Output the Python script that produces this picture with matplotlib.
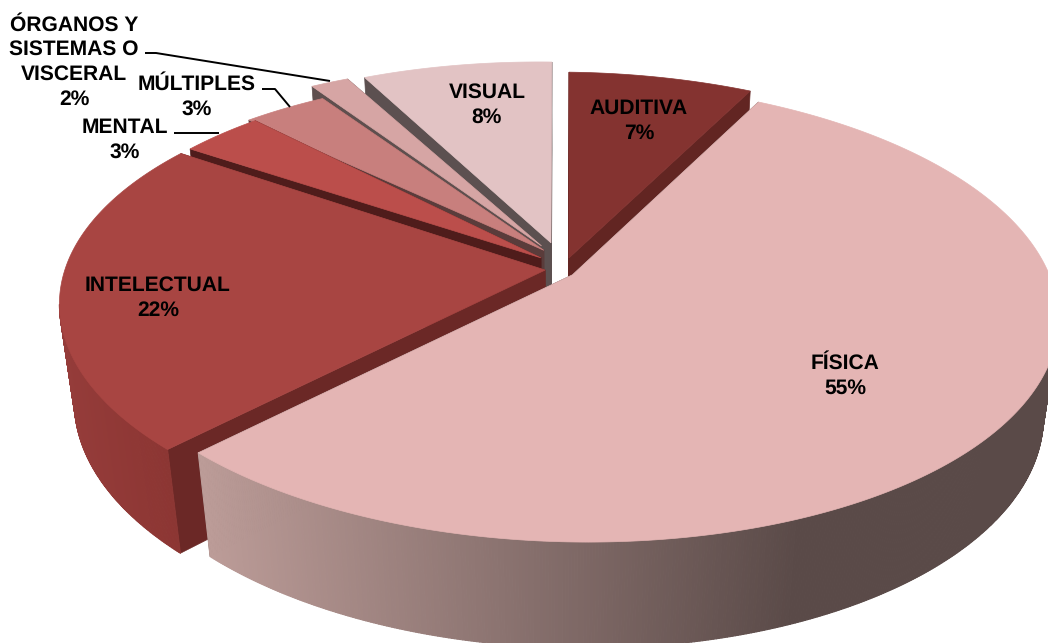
import numpy as np
import matplotlib
matplotlib.use("Agg")
import matplotlib.pyplot as plt
from matplotlib.collections import PolyCollection
from matplotlib.colors import to_rgb
from matplotlib.patches import Polygon

plt.rcParams["font.family"] = ["Liberation Sans", "DejaVu Sans"]
plt.rcParams["text.hinting"] = "no_hinting"
plt.rcParams["text.hinting_factor"] = 1

# ─── DATA ──────────────────────────────────────────────────────────────────
categories = ["AUDITIVA", "FÍSICA", "INTELECTUAL", "MENTAL", "MÚLTIPLES",
              "ÓRGANOS Y\nSISTEMAS O\nVISCERAL", "VISUAL"]
values = [7.4, 54.8, 22.2, 3.3, 3.3, 1.5, 7.5]

# ─── STYLE ─────────────────────────────────────────────────────────────────
apex_u = [0.023, 0.03, -0.027, -0.036, -0.03, -0.035, -0.015]
apex_v = [0.046, -0.03, -0.01, 0.045, 0.08, 0.10, 0.115]
rim_u = [0.027, 0.03, -0.028, -0.01, -0.025, -0.056, -0.015]
rim_v = [0.028, -0.03, -0.02, 0.005, 0.008, 0.079, 0.089]
end_trim = [0.014, 0, 0, 0, 0, 0, 0]  # radians taken off the end of the arc
top_colors = ["#843330", "#E4B5B4", "#A84542", "#BB4E4B", "#C87F7D", "#D6A5A4", "#E2C3C4"]
cut_colors = ["#622522", "#5C4B49", "#6B2826", "#4F1C1B", "#5A3C3B", "#5E4F4E", "#5C5050"]
wall_left = ["#622522", "#BC9C98", "#953C3A", "#4F1C1B", "#5A3C3B", "#5E4F4E", "#5C5050"]
wall_right = ["#622522", "#5A4A48", "#8B3532", "#4F1C1B", "#5A3C3B", "#5E4F4E", "#5C5050"]
draw_order = [0, 6, 5, 4, 3, 2, 1]

label_pos = [(639, 121), (845, 376), (158, 298), (125, 140), (197, 97), (74, 62), (487, 105)]
leaders = [[(145, 53), (156, 53), (330, 81)],
           [(262, 89), (275, 89), (290, 107)],
           [(174, 133), (219, 133)]]

# ─── PROJECTION ────────────────────────────────────────────────────────────
CX, CY = 558, 268
A, B, K = 477, 222, 0.16
G = 6
H, M = 100, 0.03


def project(u, v, z=0.0):
    s = 1 / (1 + K * v + M * z)
    return CX + A * u * s, CY - B * v * s + G * u * s + H * z * s


def blend(c1, c2, t):
    c1, c2 = np.array(to_rgb(c1)), np.array(to_rgb(c2))
    return tuple(c1 + (c2 - c1) * t)


fig = plt.figure(figsize=(10.48, 6.43), dpi=100)
ax = fig.add_axes([0, 0, 1, 1])
ax.set_xlim(0, 1048)
ax.set_ylim(643, 0)
ax.axis("off")

edges = np.cumsum([0] + values) / sum(values) * 2 * np.pi

for i in draw_order:
    ts = np.linspace(edges[i], edges[i + 1] - end_trim[i], max(int(values[i] * 12), 16))
    us, vs = rim_u[i] + np.sin(ts), rim_v[i] + np.cos(ts)
    u0, v0 = apex_u[i], apex_v[i]

    # radial cut faces
    for j in (0, -1):
        quad = [project(u0, v0), project(us[j], vs[j]), project(us[j], vs[j], 1), project(u0, v0, 1)]
        ax.add_patch(Polygon(quad, closed=True, fc=cut_colors[i], ec=cut_colors[i], lw=0.5))

    # outer wall, shaded along x; strips facing away are skipped
    tx, ty = project(us, vs)
    bx, by = project(us, vs, 1)
    quads, cols = [], []
    for k in range(len(ts) - 1):
        if tx[k + 1] >= tx[k]:
            continue
        quads.append([(tx[k], ty[k]), (tx[k + 1], ty[k + 1]), (bx[k + 1], by[k + 1]), (bx[k], by[k])])
        xm = (tx[k] + tx[k + 1]) / 2
        if i == 1:
            f = np.clip((xm - 200) / 600, 0, 1)
        else:
            f = np.clip((xm - tx.min()) / max(tx.max() - tx.min(), 1), 0, 1)
        cols.append(blend(wall_left[i], wall_right[i], f))
    if quads:
        ax.add_collection(PolyCollection(quads, facecolors=cols, edgecolors=cols, linewidths=0.8))

    # top face
    pts = [project(u0, v0)] + list(zip(tx, ty))
    ax.add_patch(Polygon(pts, closed=True, fc=top_colors[i], ec=top_colors[i], lw=0.5))

for line in leaders:
    xs, ys = zip(*line)
    ax.plot(xs, ys, color="black", lw=1.4, solid_capstyle="butt")

for name, val, (x, y) in zip(categories, values, label_pos):
    ax.text(x, y, f"{name}\n{val:.0f}%", ha="center", va="center", fontsize=15.4,
            fontweight="bold", color="black", linespacing=1.34)

fig.savefig("out.png", dpi=100)
